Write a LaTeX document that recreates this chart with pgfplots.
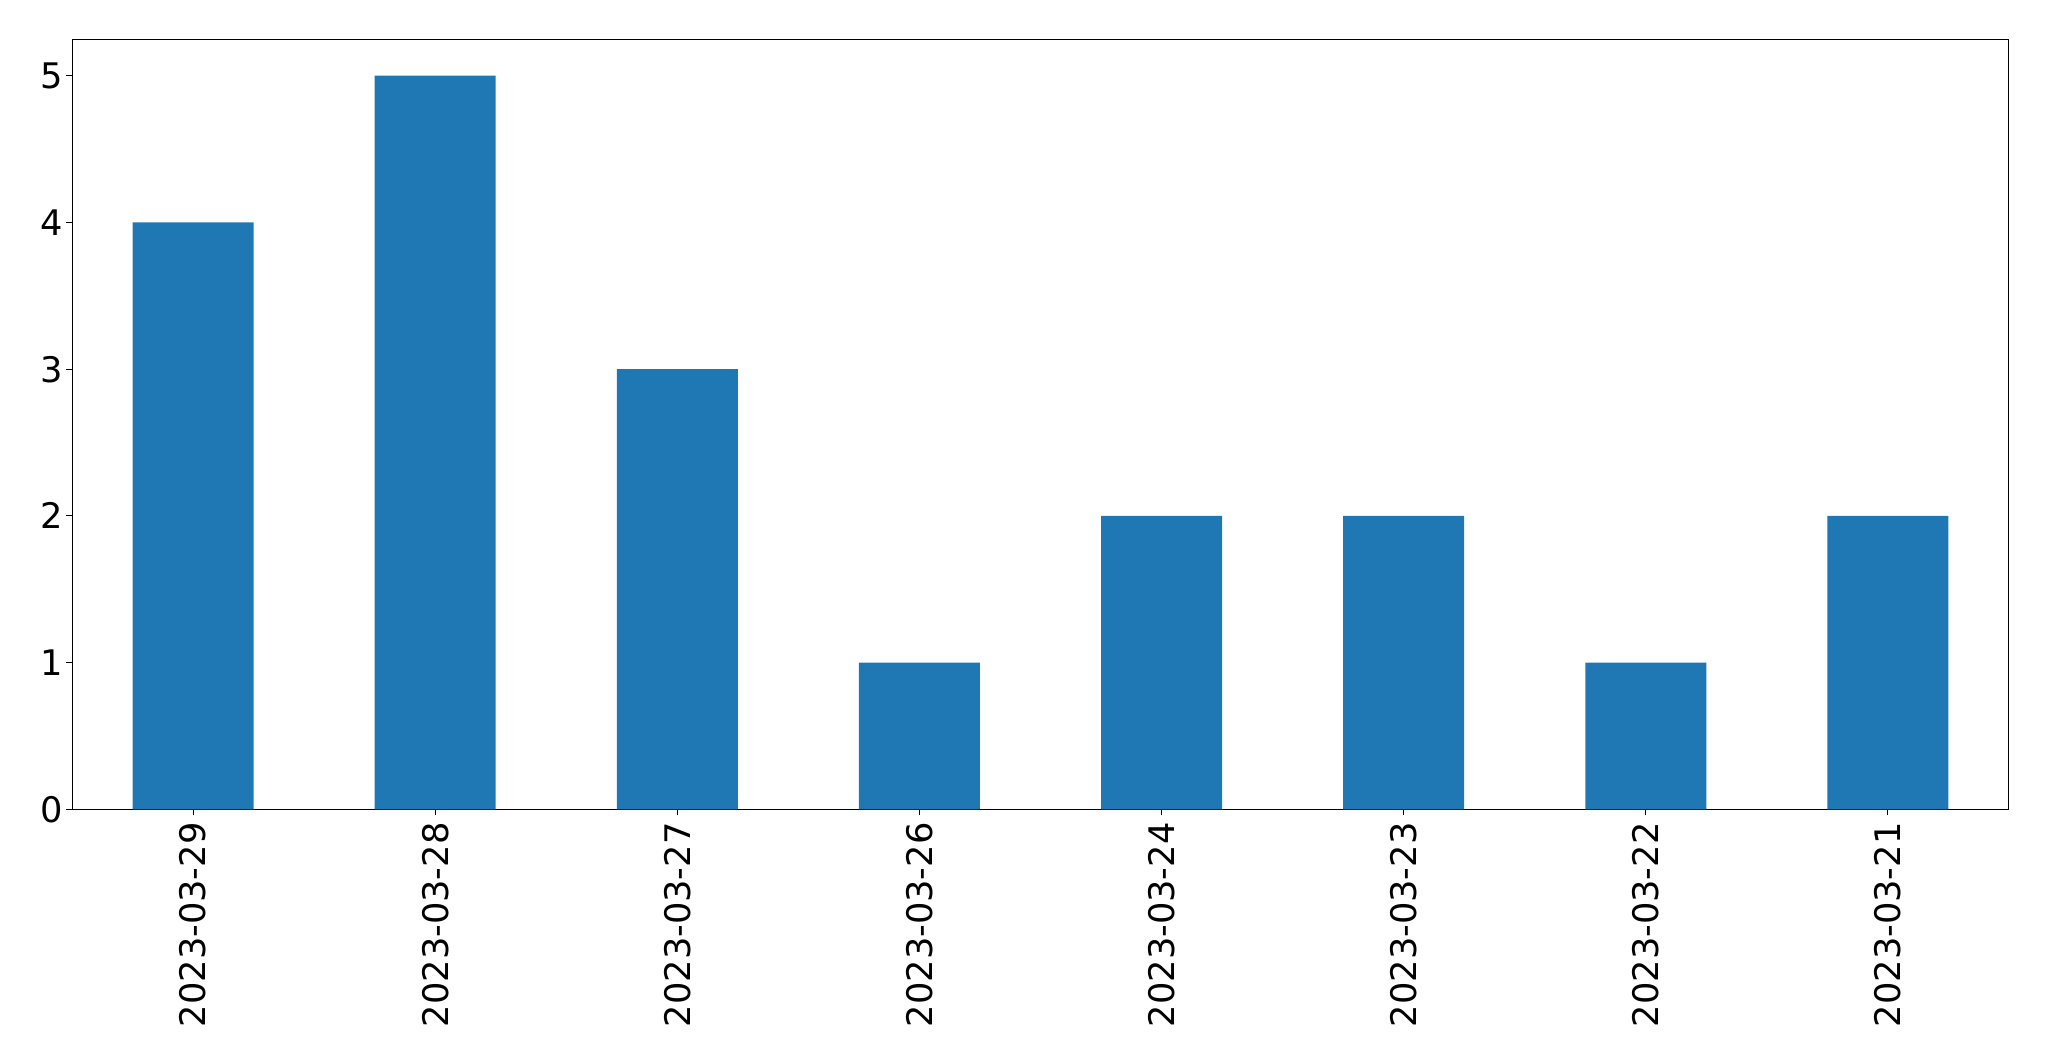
\documentclass[border=0pt]{standalone}
\usepackage{fontspec}
\setmainfont{DejaVu Sans}
\usepackage{pgfplots}
\pgfplotsset{compat=1.18}
\definecolor{tabblue}{HTML}{1F77B4}
\begin{document}
\begin{tikzpicture}
\begin{axis}[
  name=ax,
  scale only axis,
  width=968pt, height=385pt,
  xmin=-0.5, xmax=7.5,
  ymin=0, ymax=5.25,
  xtick={0,1,2,3,4,5,6,7},
  xticklabels={2023-03-29,2023-03-28,2023-03-27,2023-03-26,2023-03-24,2023-03-23,2023-03-22,2023-03-21},
  ytick={0,1,2,3,4,5},
  /pgf/number format/assume math mode=true,
  tick align=outside,
  tick pos=left,
  major tick length=3pt,
  axis line style={line width=0.5pt},
  every tick/.style={black, line width=0.5pt},
  tick label style={font=\fontsize{17.6pt}{21pt}\selectfont},
  y tick label style={xshift=2pt},
  x tick label style={rotate=90, anchor=east},
  ybar, bar width=0.5, bar shift=0pt,
]
\addplot[fill=tabblue, draw=none] coordinates {(0,4) (1,5) (2,3) (3,1) (4,2) (5,2) (6,1) (7,2)};
\end{axis}
\pgfresetboundingbox
\path[use as bounding box] ([xshift=-36pt,yshift=-126pt]ax.south west) rectangle ([xshift=20pt,yshift=19.5pt]ax.north east);
\end{tikzpicture}
\end{document}
